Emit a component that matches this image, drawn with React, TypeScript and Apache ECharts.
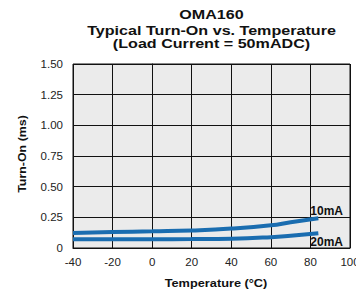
import React, { useEffect, useRef } from "react";
import * as echarts from "echarts";

const titleLines = ["OMA160", "Typical Turn-On vs. Temperature", "(Load Current = 50mADC)"];
const xAxisName = "Temperature (\u00B0C)";
const yAxisName = "Turn-On (ms)";
const xTicks = [-40, -20, 0, 20, 40, 60, 80, 100];
const yTicks = [0, 0.25, 0.5, 0.75, 1.0, 1.25, 1.5];
const temps10 = [-40, -20, 0, 20, 40, 60, 70, 84];
const turnOn10 = [0.122, 0.13, 0.136, 0.143, 0.158, 0.185, 0.21, 0.242];
const temps20 = [-40, -20, 0, 20, 40, 60, 70, 84];
const turnOn20 = [0.072, 0.072, 0.072, 0.073, 0.076, 0.088, 0.1, 0.121];
const seriesNames = ["10mA", "20mA"];

export default function App() {
  const ref = useRef<HTMLDivElement>(null);
  useEffect(() => {
    if (!ref.current) return;
    const chart = echarts.init(ref.current, null, { renderer: "svg" });
    const font = "'Liberation Sans', Arial, Helvetica, sans-serif";
    const titleY = [15, 31, 43.5];
    const labelStyle = { fontFamily: font, fontWeight: "bold", fontSize: 12, color: "#111" };
    chart.setOption({
      animation: false,
      textStyle: { fontFamily: font },
      graphic: [
        ...titleLines.map((t, i) => ({
          type: "text",
          x: 211.5,
          y: titleY[i],
          scaleX: 1.24,
          style: {
            text: t,
            textAlign: "center",
            textVerticalAlign: "middle",
            fontFamily: font,
            fontWeight: "bold",
            fontSize: 13,
            fill: "#111",
          },
        })),
        {
          type: "text",
          x: 216,
          y: 283.5,
          scaleX: 1.16,
          style: {
            text: xAxisName,
            textAlign: "center",
            textVerticalAlign: "middle",
            fontFamily: font,
            fontWeight: "bold",
            fontSize: 11,
            fill: "#111",
          },
        },
        {
          type: "text",
          x: 22,
          y: 154,
          rotation: Math.PI / 2,
          scaleX: 1.13,
          style: {
            text: yAxisName,
            textAlign: "center",
            textVerticalAlign: "middle",
            fontFamily: font,
            fontWeight: "bold",
            fontSize: 11,
            fill: "#111",
          },
        },
      ],
      grid: {
        left: 73,
        top: 64,
        right: 6,
        bottom: 45,
        outerBoundsMode: "none",
        containLabel: false,
        show: true,
        backgroundColor: "#ebebeb",
        borderColor: "#111",
        borderWidth: 1,
      },
      xAxis: {
        type: "value",
        min: xTicks[0],
        max: xTicks[xTicks.length - 1],
        interval: 20,
        axisLine: { show: true, lineStyle: { color: "#111" } },
        axisTick: { show: false },
        axisLabel: { fontFamily: font, fontSize: 11.5, color: "#222", margin: 8 },
        splitLine: { show: true, lineStyle: { color: "#111", width: 1 } },
      },
      yAxis: {
        type: "value",
        min: yTicks[0],
        max: yTicks[yTicks.length - 1],
        interval: 0.25,
        axisLine: { show: true, lineStyle: { color: "#111" } },
        axisTick: { show: false },
        axisLabel: {
          fontFamily: font,
          fontSize: 11.5,
          color: "#222",
          margin: 10,
          formatter: (v: number) => (v === 0 ? "0" : v.toFixed(2)),
        },
        splitLine: { show: true, lineStyle: { color: "#111", width: 1 } },
      },
      series: [
        {
          type: "line",
          name: seriesNames[0],
          smooth: true,
          showSymbol: false,
          symbol: "none",
          lineStyle: { color: "#1a6db0", width: 4 },
          endLabel: {
            show: true,
            formatter: seriesNames[0],
            align: "left",
            verticalAlign: "middle",
            distance: 0,
            offset: [-8, -7],
            ...labelStyle,
          },
          data: temps10.map((x, i) => [x, turnOn10[i]]),
        },
        {
          type: "line",
          name: seriesNames[1],
          smooth: true,
          showSymbol: false,
          symbol: "none",
          lineStyle: { color: "#1a6db0", width: 4 },
          endLabel: {
            show: true,
            formatter: seriesNames[1],
            align: "left",
            verticalAlign: "middle",
            distance: 0,
            offset: [-8, 9],
            ...labelStyle,
          },
          data: temps20.map((x, i) => [x, turnOn20[i]]),
        },
      ],
    });
    return () => chart.dispose();
  }, []);
  return <div ref={ref} style={{ width: 356, height: 293, position: "absolute", left: 0, top: 0 }} />;
}
